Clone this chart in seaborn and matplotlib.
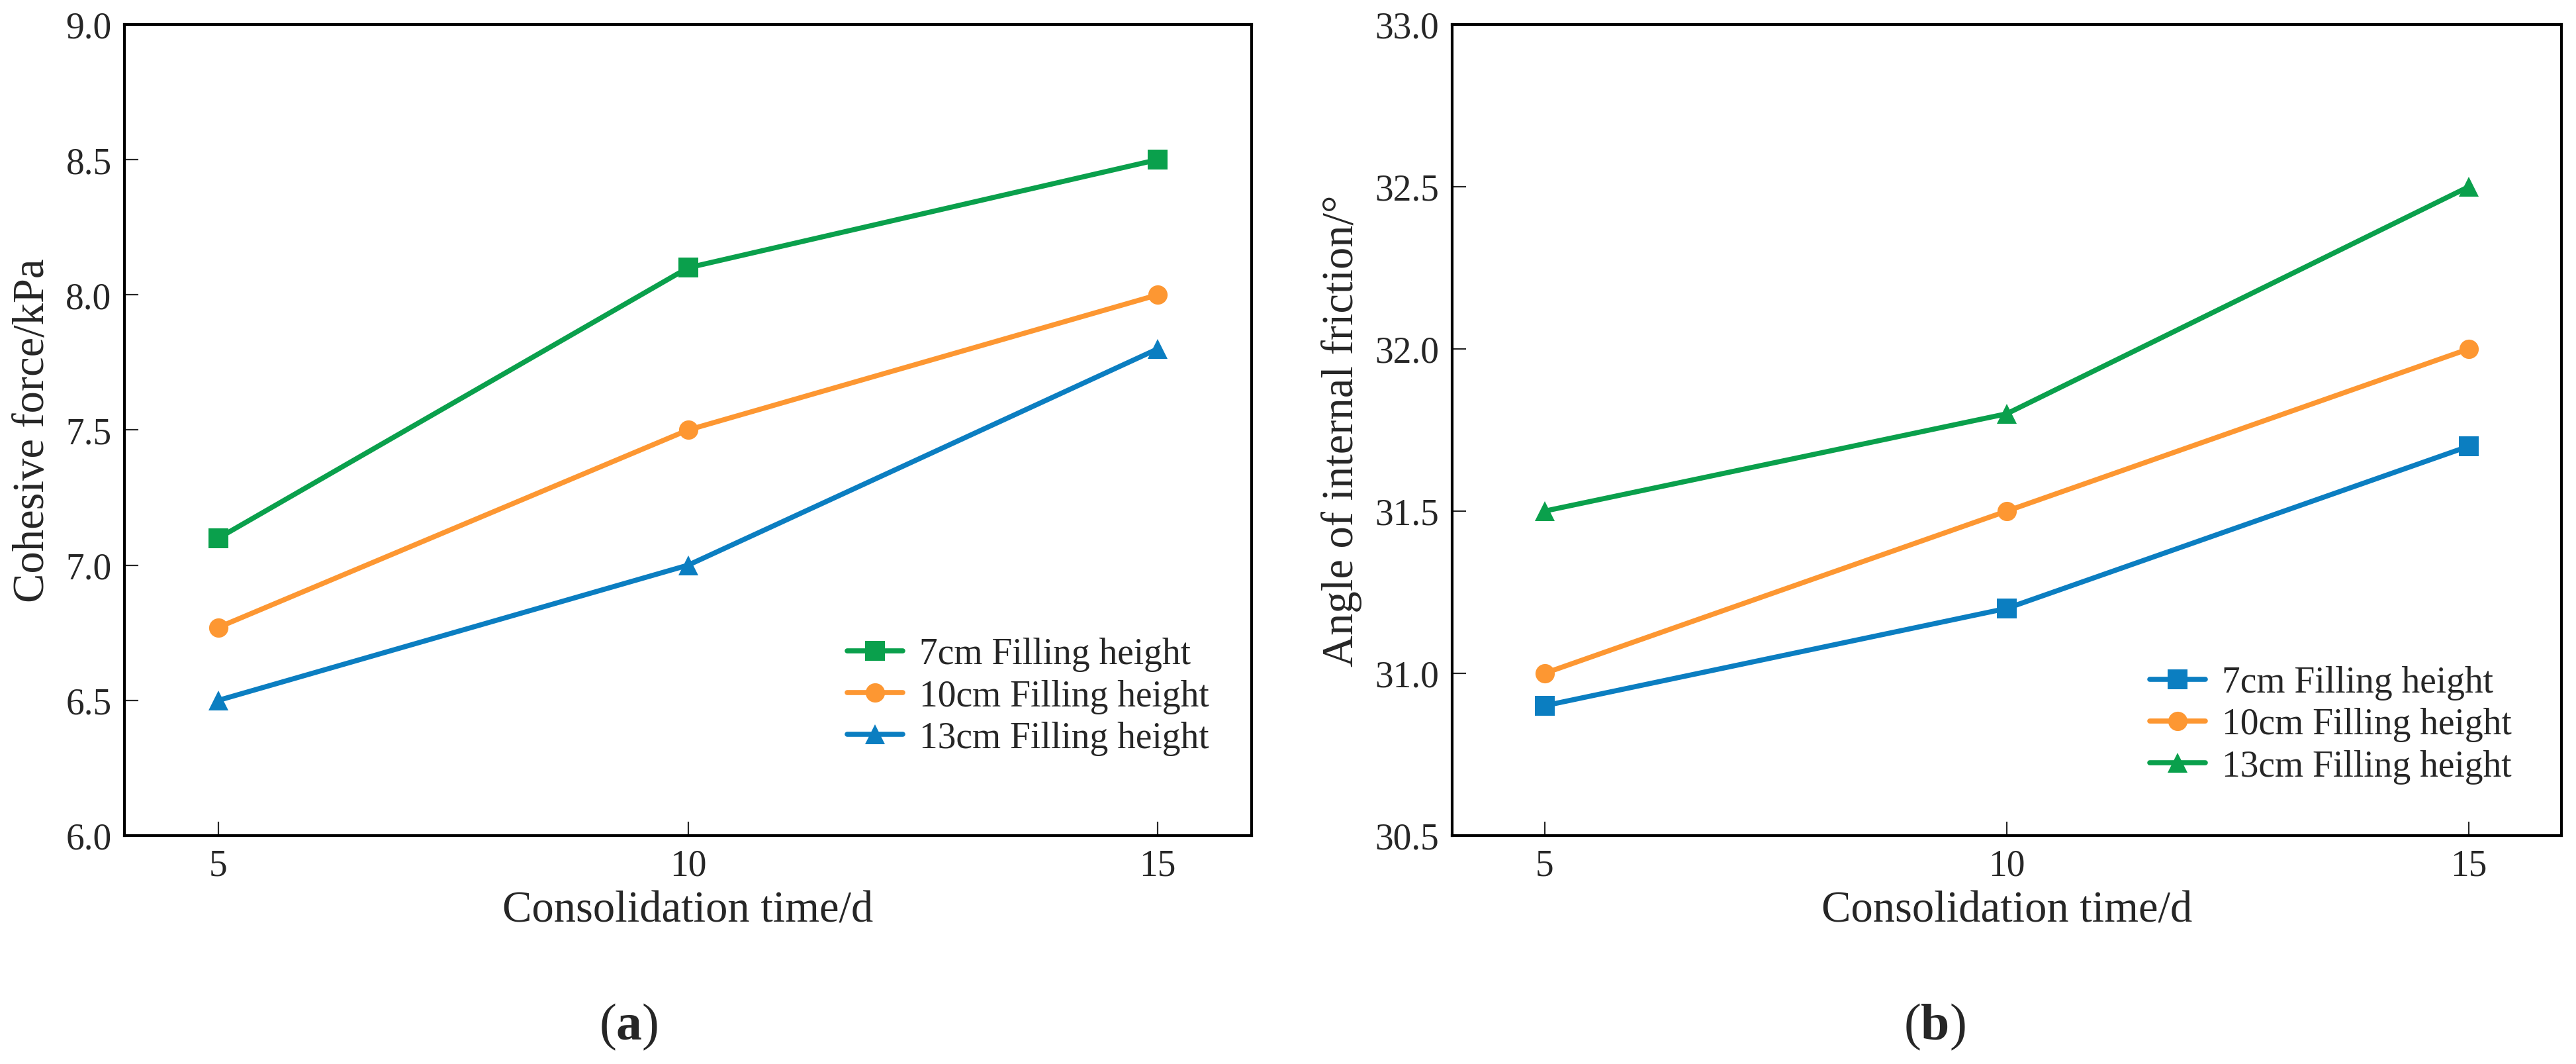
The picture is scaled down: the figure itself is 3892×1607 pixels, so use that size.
import pandas as pd
import numpy as np
import matplotlib.pyplot as plt
import seaborn as sns

# consolidation time, days
days = [5, 10, 15]
series = ['7cm Filling height', '10cm Filling height', '13cm Filling height']

# (a) cohesive force / kPa
cohesion_7 = [7.1, 8.1, 8.5]
cohesion_10 = [6.77, 7.5, 8.0]
cohesion_13 = [6.5, 7.0, 7.8]

# (b) angle of internal friction / degree
friction_7 = [30.9, 31.2, 31.7]
friction_10 = [31.0, 31.5, 32.0]
friction_13 = [31.5, 31.8, 32.5]

green = '#0aa04c'
orange = '#fd9732'
blue = '#0b7ec1'


def long_df(values):
    rows = []
    for name, vals in zip(series, values):
        for d, v in zip(days, vals):
            rows.append({'day': d, 'value': v, 'series': name})
    return pd.DataFrame(rows)


dfA = long_df([cohesion_7, cohesion_10, cohesion_13])
dfB = long_df([friction_7, friction_10, friction_13])

sns.set_style('ticks')
plt.rcParams['font.family'] = ['Liberation Serif', 'DejaVu Serif']
plt.rcParams['mathtext.fontset'] = 'custom'
plt.rcParams['mathtext.rm'] = 'Liberation Serif'
plt.rcParams['mathtext.bf'] = 'Liberation Serif:bold'

fig = plt.figure(figsize=(38.92, 16.08), dpi=100)
axA = fig.add_axes([0.0483, 0.2146, 0.4376, 0.7618])
axB = fig.add_axes([0.5637, 0.2146, 0.4306, 0.7618])

panels = [
    (axA, dfA, {series[0]: green, series[1]: orange, series[2]: blue},
     (6.0, 9.0), 'Cohesive force/kPa', (0.962, 0.099)),
    (axB, dfB, {series[0]: blue, series[1]: orange, series[2]: green},
     (30.5, 33.0), 'Angle of internal friction/°', (0.955, 0.064)),
]
markers = {series[0]: 's', series[1]: 'o', series[2]: '^'}

for ax, df, pal, ylim, ylab, anchor in panels:
    sns.lineplot(data=df, x='day', y='value', hue='series', style='series',
                 hue_order=series, style_order=series, palette=pal,
                 markers=markers, dashes=False, markersize=21,
                 linewidth=5.5, markeredgewidth=0, ax=ax)
    ax.set_xlim(4, 16)
    ax.set_ylim(*ylim)
    ax.set_xticks(days)
    ax.set_yticks(np.arange(ylim[0], ylim[1] + 0.01, 0.5))
    ax.set_yticklabels(['%.1f' % t for t in ax.get_yticks()])
    ax.tick_params(direction='in', length=15, width=1.6, labelsize=40, pad=14)
    for sp in ax.spines.values():
        sp.set_visible(True)
        sp.set_linewidth(3)
        sp.set_color('black')
    ax.set_xlabel('Consolidation time/d', fontsize=48, labelpad=8)
    ax.set_ylabel(ylab, fontsize=48, labelpad=14)

    leg = ax.get_legend()
    handles = leg.legend_handles
    labels = [t.get_text() for t in leg.get_texts()]
    for h in handles:
        h.set_markersize(21)
        h.set_linewidth(5.5)
        h.set_markeredgewidth(0)
    ax.legend(handles, labels, loc='lower right', bbox_to_anchor=anchor,
              frameon=False, fontsize=40, handlelength=1.5,
              handletextpad=0.45, labelspacing=0.2, borderpad=0,
              borderaxespad=0)

fig.text(0.244, 0.035, r'($\mathbf{a}$)', fontsize=56, ha='center', va='center')
fig.text(0.751, 0.035, r'($\mathbf{b}$)', fontsize=56, ha='center', va='center')

fig.savefig('out.png', dpi=100, facecolor='white')
